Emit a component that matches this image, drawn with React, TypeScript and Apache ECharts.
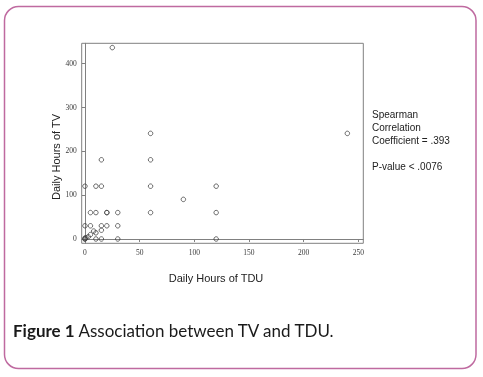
import React, { useEffect, useRef } from "react";
import * as echarts from "echarts";

const xTicks = [0, 50, 100, 150, 200, 250];
const yTicks = [0, 100, 200, 300, 400];

// Daily hours of TDU (x) and Daily hours of TV (y)
const tduValues = [
  0, 0, 0, 1, 10, 15, 30, 120,
  3, 5, 8, 10, 15,
  0, 5, 15, 20, 30,
  5, 10, 20, 20, 30, 60, 120,
  90,
  0, 10, 15, 60, 120,
  15, 60,
  60, 240,
  25,
];
const tvValues = [
  0, 0, 2, 3, 0, 0, 0, 0,
  5, 10, 18, 14, 20,
  30, 30, 30, 30, 30,
  60, 60, 60, 60, 60, 60, 60,
  90,
  120, 120, 120, 120, 120,
  180, 180,
  240, 240,
  435,
];

const xTitle = "Daily Hours of TDU";
const yTitle = "Daily Hours of TV";
const noteLines = ["Spearman", "Correlation", "Coefficient = .393", "", "P-value < .0076"];
const captionBold = "Figure 1";
const captionText = " Association between TV and TDU.";

export default function App() {
  const ref = useRef<HTMLDivElement>(null);
  useEffect(() => {
    if (!ref.current) return;
    const chart = echarts.init(ref.current, null, { renderer: "svg" });
    const data = tduValues.map((x, i) => [x, tvValues[i]]);
    const axisColor = "#808080";
    const labelStyle = {
      fontFamily: "Liberation Serif, serif",
      fontSize: 7.5,
      color: "#3a3a3a",
      margin: 5,
    };
    chart.setOption({
      animation: false,
      backgroundColor: "#ffffff",
      grid: {
        left: 81.7,
        top: 43.3,
        width: 281.6,
        height: 200,
        show: true,
        borderColor: axisColor,
        borderWidth: 1,
        containLabel: false,
      },
      xAxis: {
        type: "value",
        min: -3,
        max: 254.6,
        splitLine: { show: false },
        axisLine: { show: true, lineStyle: { color: axisColor } },
        axisTick: {
          show: true,
          inside: false,
          length: 3,
          customValues: xTicks,
          lineStyle: { color: axisColor },
        },
        axisLabel: { customValues: xTicks, ...labelStyle },
      },
      yAxis: {
        type: "value",
        min: -9.8,
        max: 444.8,
        splitLine: { show: false },
        axisLine: { show: true, lineStyle: { color: axisColor } },
        axisTick: {
          show: true,
          inside: false,
          length: 3,
          customValues: yTicks,
          lineStyle: { color: axisColor },
        },
        axisLabel: { customValues: yTicks, ...labelStyle },
      },
      series: [
        {
          type: "scatter",
          data,
          symbol: "circle",
          symbolSize: 4.5,
          itemStyle: {
            color: "rgba(255,255,255,0)",
            borderColor: "#444",
            borderWidth: 1,
          },
        },
      ],
      graphic: [
        {
          type: "rect",
          shape: { x: 4.5, y: 6.5, width: 471.5, height: 362, r: 14 },
          style: { fill: "none", stroke: "#bf6aa0", lineWidth: 1.5 },
          silent: true,
        },
        {
          type: "text",
          x: 56,
          y: 157,
          rotation: Math.PI / 2,
          style: {
            text: yTitle,
            font: "11px 'Liberation Sans', Arial, sans-serif",
            fill: "#222",
            align: "center",
            verticalAlign: "middle",
          },
        },
        {
          type: "text",
          x: 216,
          y: 278,
          style: {
            text: xTitle,
            font: "11px 'Liberation Sans', Arial, sans-serif",
            fill: "#222",
            align: "center",
            verticalAlign: "middle",
          },
        },
        {
          type: "text",
          x: 372,
          y: 108.5,
          style: {
            text: noteLines.join("\n"),
            font: "10px 'Liberation Sans', Arial, sans-serif",
            lineHeight: 12.8,
            fill: "#222",
            align: "left",
            verticalAlign: "top",
          },
        },
        {
          type: "text",
          x: 13,
          y: 330,
          style: {
            text: "{b|" + captionBold + "}{r|" + captionText + "}",
            verticalAlign: "middle",
            align: "left",
            rich: {
              b: {
                fontFamily: "Lato, sans-serif",
                fontSize: 17,
                fontWeight: "bold",
                fill: "#1a1a1a",
              },
              r: {
                fontFamily: "Lato, sans-serif",
                fontSize: 17,
                fill: "#1a1a1a",
              },
            },
          },
        },
      ],
    });
    return () => chart.dispose();
  }, []);
  return (
    <div
      ref={ref}
      style={{
        position: "fixed",
        left: 0,
        top: 0,
        width: 483,
        height: 377,
        willChange: "transform",
      }}
    />
  );
}
